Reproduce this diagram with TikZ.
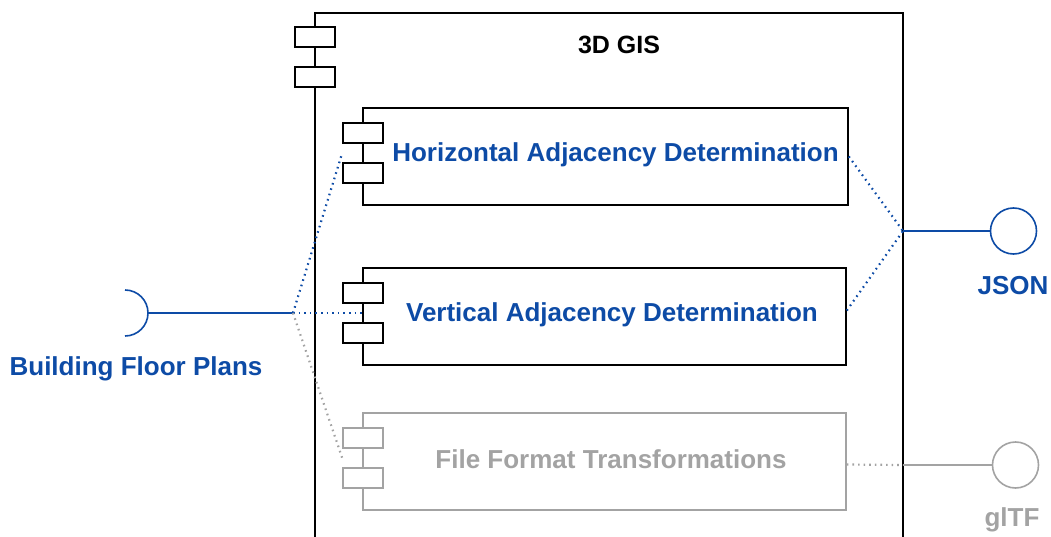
\documentclass[tikz,border=0pt]{standalone}
\usepackage{fontspec}
\setmainfont{Liberation Sans}
\usetikzlibrary{calc}
\definecolor{ifblue}{HTML}{0D4BA6}
\definecolor{ifgray}{HTML}{A3A3A3}
\tikzset{
    comp/.style={draw, line width=1.6pt, minimum width=485pt, minimum height=97pt, inner sep=0pt},
    comptab/.style={draw, line width=1.6pt, fill=white, minimum width=40pt, minimum height=20pt, inner sep=0pt},
    complabel/.style={font=\fontsize{26}{30}\selectfont\bfseries, text=ifblue},
    iflabel/.style={font=\fontsize{26}{30}\selectfont\bfseries},
    link/.style={line width=1.6pt},
    dotlink/.style={line width=2.2pt, dash pattern=on 1.6pt off 4pt}
}
\begin{document}
\begin{tikzpicture}[x=1pt, y=-1pt]
    \useasboundingbox (0,0) rectangle (1051,537);

    % outer 3D GIS component (open at bottom)
    \draw [line width=1.6pt] (315,537) -- (315,13) -- (903,13) -- (903,537);
    \node[comptab] (gistaba) at (315,37) {};
    \node[comptab] (gistabb) at (315,77) {};
    \node[font=\fontsize{25}{29}\selectfont\bfseries] (gistitle) at (619,45) {3D GIS};

    % inner components
    \node[comp] (hor) at (605.5,156.5) {};
    \node[comptab] (hortaba) at (363,133) {};
    \node[comptab] (hortabb) at (363,173) {};
    \node[complabel] (horlabel) at (615.5,155) {Horizontal Adjacency Determination};

    \node[comp, minimum width=483pt] (ver) at (604.5,316.5) {};
    \node[comptab] (vertaba) at (363,293) {};
    \node[comptab] (vertabb) at (363,333) {};
    \node[complabel] (verlabel) at (612,315) {Vertical Adjacency Determination};

    \node[comp, draw=ifgray, minimum width=483pt] (fft) at (604.5,461.5) {};
    \node[comptab, draw=ifgray] (ffttaba) at (363,438) {};
    \node[comptab, draw=ifgray] (ffttabb) at (363,478) {};
    \node[complabel, text=ifgray] (fftlabel) at (611,459) {File Format Transformations};

    % required interface (left)
    \coordinate (injoin) at (293,313);
    \coordinate (insock) at (148,313);
    \draw [link, ifblue] (125,336) arc (90:-90:23);
    \draw [link, ifblue] (insock) -- (injoin);
    \node[iflabel, text=ifblue] (inlabel) at (136,369) {Building Floor Plans};
    \draw [dotlink, ifblue] (injoin) -- ($(hortaba.south west)!0.5!(hortabb.north west)$);
    \draw [dotlink, ifblue] (injoin) -- (ver.west |- injoin);
    \draw [dotlink, ifgray] (injoin) -- ($(ffttaba.south west)!0.5!(ffttabb.north west)$);

    % provided interfaces (right)
    \coordinate (outjoin) at (903,231);
    \node[circle, draw=ifblue, line width=1.6pt, minimum size=46pt, inner sep=0pt] (json) at (1013.5,231) {};
    \draw [link, ifblue] (outjoin) -- (json.west);
    \node[iflabel, text=ifblue] (jsonlabel) at (1013,286) {JSON};
    \draw [dotlink, ifblue] (hor.east) -- (outjoin);
    \draw [dotlink, ifblue] ($(ver.east)+(0,-6)$) -- (outjoin);

    \coordinate (gltfjoin) at (903,465);
    \node[circle, draw=ifgray, line width=1.6pt, minimum size=46pt, inner sep=0pt] (gltf) at (1015.5,465) {};
    \draw [link, ifgray] (gltfjoin) -- (gltf.west);
    \node[iflabel, text=ifgray] (gltflabel) at (1012,520) {glTF};
    \draw [dotlink, ifgray] ($(fft.east)+(0,3)$) -- (gltfjoin);
\end{tikzpicture}
\end{document}
